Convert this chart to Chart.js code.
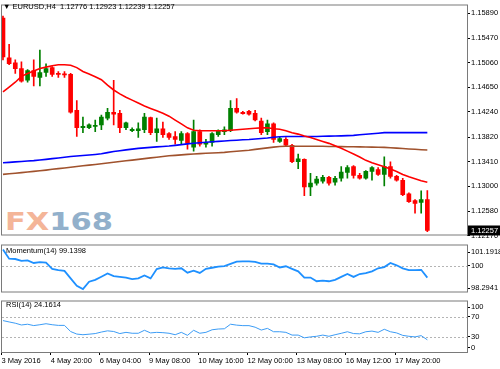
<!DOCTYPE html>
<html><head><meta charset="utf-8">
<script src="https://cdn.jsdelivr.net/npm/chart.js@4"></script>
<style>
html,body{margin:0;padding:0;background:#fff;width:500px;height:369px;overflow:hidden;font-family:"Liberation Sans",Arial,sans-serif}
canvas{position:absolute;left:0}
.t{position:absolute;font-size:7.5px;color:#000;white-space:nowrap;line-height:8px}
#wm{position:absolute;left:5px;top:209px;font:bold 25px "DejaVu Sans";line-height:25px;transform:scaleX(1.22);transform-origin:0 0;white-space:nowrap}
</style></head><body>
<div id="wm"><span style="color:#f4b598">FX</span><span style="color:#92b0cb">168</span></div>
<canvas id="main" width="500" height="240" style="top:0"></canvas>
<canvas id="mom" width="500" height="57" style="top:240px"></canvas>
<canvas id="rsi" width="500" height="73" style="top:296px"></canvas>
<div class="t" id="hdr" style="left:3px;top:3px"></div>
<div class="t" id="momLbl" style="left:6px;top:247px"></div>
<div class="t" id="rsiLbl" style="left:6px;top:301px"></div>
<script>
const symbol = "EURUSD,H4";
const tickLabels = ["3 May 2016","4 May 20:00","6 May 04:00","9 May 08:00","10 May 16:00","12 May 00:00","13 May 08:00","16 May 12:00","17 May 20:00"];
const tickBars = [0,8,16,24,32,40,48,56,64];
const priceTicks = [1.15890,1.15470,1.15060,1.14650,1.14240,1.13820,1.13410,1.13000,1.12580,1.12170];
const momTicks = [101.1918,100,98.2941];
const rsiTicks = [100,70,30,0];

const open = [1.15809,1.15143,1.15062,1.14965,1.14770,1.14932,1.14819,1.14900,1.14981,1.14884,
1.14876,1.14868,1.14267,1.13975,1.13975,1.13999,1.14024,1.14137,1.14235,1.14218,
1.13975,1.13926,1.13926,1.13942,1.14145,1.13894,1.13959,1.13877,1.13829,1.13764,
1.13877,1.13650,1.13910,1.13699,1.13731,1.13861,1.13910,1.13926,1.14300,1.14235,
1.14251,1.14218,1.14088,1.13910,1.14040,1.13748,1.13780,1.13683,1.13407,1.13447,
1.12985,1.13050,1.13082,1.13147,1.13066,1.13131,1.13228,1.13326,1.13180,1.13131,
1.13245,1.13277,1.13196,1.13326,1.13163,1.13098,1.12871,1.12758,1.12725,1.12776];
const high = [1.15841,1.15371,1.15111,1.15079,1.14949,1.15111,1.15273,1.15046,1.14997,1.14916,
1.14916,1.14884,1.14429,1.14153,1.14040,1.14105,1.14186,1.14300,1.14770,1.14267,
1.14072,1.13975,1.14056,1.14218,1.14153,1.14137,1.14072,1.13894,1.13910,1.13910,
1.13894,1.14105,1.13942,1.13780,1.13894,1.13942,1.13991,1.14429,1.14462,1.14251,
1.14267,1.14267,1.14137,1.14105,1.14056,1.13829,1.13813,1.13699,1.13537,1.13456,
1.13212,1.13163,1.13180,1.13163,1.13163,1.13326,1.13342,1.13342,1.13212,1.13261,
1.13326,1.13309,1.13488,1.13407,1.13180,1.13131,1.12887,1.12774,1.12920,1.12923];
const low = [1.15111,1.15030,1.14884,1.14738,1.14738,1.14673,1.14673,1.14835,1.14835,1.14819,
1.14819,1.14218,1.13829,1.13894,1.13959,1.13910,1.13942,1.14105,1.14024,1.13894,
1.13942,1.13910,1.13813,1.13894,1.13861,1.13748,1.13813,1.13780,1.13699,1.13699,
1.13618,1.13585,1.13667,1.13650,1.13667,1.13829,1.13861,1.13910,1.14218,1.14202,
1.14186,1.14088,1.13861,1.13861,1.13731,1.13731,1.13667,1.13391,1.13293,1.12839,
1.12839,1.13017,1.13050,1.13017,1.13017,1.13082,1.13131,1.13131,1.13115,1.13115,
1.13098,1.13180,1.13001,1.13131,1.13082,1.12839,1.12725,1.12547,1.12547,1.12239];
const close = [1.15160,1.15046,1.14965,1.14754,1.14932,1.14835,1.14900,1.14965,1.14868,1.14868,
1.14859,1.14235,1.13975,1.13999,1.14024,1.14015,1.14153,1.14235,1.14202,1.13975,
1.14056,1.13951,1.13959,1.14153,1.13894,1.13959,1.13861,1.13813,1.13780,1.13877,
1.13715,1.13910,1.13699,1.13731,1.13877,1.13926,1.13942,1.14300,1.14235,1.14210,
1.14202,1.14105,1.13894,1.14040,1.13780,1.13796,1.13683,1.13407,1.13456,1.12985,
1.13050,1.13115,1.13147,1.13050,1.13131,1.13236,1.13309,1.13180,1.13131,1.13245,
1.13309,1.13196,1.13326,1.13163,1.13098,1.12855,1.12741,1.12709,1.12774,1.12257];
const maFast = [1.14575,1.14656,1.14737,1.14835,1.14883,1.14924,1.14965,1.14989,1.15013,1.15029,
1.15029,1.15021,1.14981,1.14916,1.14875,1.14827,1.14778,1.14689,1.14607,1.14542,
1.14486,1.14437,1.14388,1.14339,1.14299,1.14258,1.14218,1.14169,1.14104,1.14039,
1.13974,1.13934,1.13925,1.13925,1.13925,1.13925,1.13925,1.13934,1.13942,1.13950,
1.13958,1.13966,1.13974,1.13974,1.13958,1.13950,1.13925,1.13893,1.13869,1.13836,
1.13812,1.13779,1.13747,1.13714,1.13674,1.13633,1.13584,1.13536,1.13487,1.13430,
1.13390,1.13357,1.13325,1.13284,1.13244,1.13195,1.13154,1.13122,1.13089,1.13065];
const maMid = [1.13391,1.13397,1.13404,1.13410,1.13418,1.13425,1.13436,1.13447,1.13459,1.13470,
1.13481,1.13494,1.13503,1.13512,1.13520,1.13529,1.13540,1.13559,1.13577,1.13592,
1.13605,1.13618,1.13631,1.13639,1.13647,1.13655,1.13662,1.13670,1.13681,1.13693,
1.13705,1.13717,1.13725,1.13733,1.13741,1.13748,1.13754,1.13762,1.13767,1.13774,
1.13779,1.13788,1.13796,1.13804,1.13816,1.13824,1.13829,1.13829,1.13829,1.13829,
1.13829,1.13829,1.13832,1.13835,1.13837,1.13840,1.13843,1.13848,1.13858,1.13866,
1.13874,1.13884,1.13894,1.13894,1.13894,1.13894,1.13894,1.13894,1.13894,1.13894];
const maSlow = [1.13196,1.13206,1.13215,1.13225,1.13235,1.13245,1.13256,1.13267,1.13280,1.13292,
1.13303,1.13316,1.13327,1.13339,1.13350,1.13361,1.13374,1.13387,1.13399,1.13412,
1.13423,1.13434,1.13447,1.13459,1.13472,1.13483,1.13494,1.13506,1.13514,1.13522,
1.13530,1.13537,1.13543,1.13548,1.13553,1.13558,1.13564,1.13574,1.13582,1.13590,
1.13600,1.13613,1.13626,1.13639,1.13652,1.13662,1.13667,1.13667,1.13667,1.13667,
1.13667,1.13667,1.13665,1.13663,1.13662,1.13660,1.13658,1.13657,1.13655,1.13653,
1.13652,1.13650,1.13647,1.13642,1.13634,1.13628,1.13621,1.13615,1.13608,1.13602];
const momentum = [101.1918,100.52,100.50,100.37,100.40,100.21,100.27,100.23,99.78,99.69,
99.63,99.08,98.53,98.2941,98.84,98.97,99.20,99.44,99.25,99.19,
99.14,99.03,99.08,99.29,99.08,99.76,99.88,99.82,99.78,99.82,
99.50,99.65,99.48,99.78,99.86,99.95,99.98,100.14,100.31,100.33,
100.33,100.29,100.16,100.16,100.10,99.88,99.97,99.78,99.60,99.14,
99.14,98.87,98.91,98.87,98.97,99.19,99.40,99.19,99.40,99.46,
99.60,99.82,99.91,100.21,100.04,99.82,99.69,99.69,99.71,99.1398];
const rsi = [62.2,59.5,57.0,53.5,55.0,52.3,54.0,56.0,54.0,52.7,
52.7,40.5,35.5,34.2,35.3,36.5,39.5,41.9,40.6,36.5,
38.9,37.1,37.1,43.0,37.8,38.9,38.3,37.1,34.2,38.9,
33.0,43.0,37.1,38.9,44.0,45.5,46.0,55.0,53.2,52.2,
52.2,49.1,43.5,46.8,40.1,40.1,38.9,33.5,33.5,28.1,
29.9,31.1,33.5,31.1,34.2,37.0,40.1,36.5,36.0,40.1,
41.4,38.9,45.0,40.1,37.8,32.9,31.1,29.9,32.4,24.1614];

const last = close.length - 1;
const FONT = {family:'"Liberation Sans", Arial, sans-serif', size:7.5};
const X_MIN = -0.16, X_MAX = 75.45;
const idx = close.map((_, i) => i);
const candleColor = idx.map(i => close[i] >= open[i] ? '#008000' : '#ff0000');

document.getElementById('hdr').innerHTML = '&#9660; ' + symbol + '&nbsp; ' +
  [open[last], high[last], low[last], close[last]].map(v => v.toFixed(5)).join(' ');
document.getElementById('momLbl').textContent = 'Momentum(14) ' + momentum[last].toFixed(4);
document.getElementById('rsiLbl').textContent = 'RSI(14) ' + rsi[last].toFixed(4);

const frame = {id:'frame', afterDraw(c){
  const a = c.chartArea, g = c.ctx; g.save();
  g.strokeStyle = '#7a7a7a'; g.lineWidth = 1;
  g.strokeRect(a.left - 0.5, a.top - 0.5, a.right - a.left + 1, a.bottom - a.top + 1);
  g.restore();
}};
function levels(values){ return {id:'levels', beforeDatasetsDraw(c){
  const y = c.scales.y, a = c.chartArea, g = c.ctx; g.save();
  g.strokeStyle = '#b4b4b4'; g.lineWidth = 1; g.setLineDash([2,2]);
  values.forEach(v => { const p = Math.round(y.getPixelForValue(v)) + 0.5;
    g.beginPath(); g.moveTo(a.left, p); g.lineTo(a.right, p); g.stroke(); });
  g.restore();
}};}
const priceBox = {id:'pbox', afterDraw(c){
  const y = c.scales.y, g = c.ctx, p = y.getPixelForValue(close[last]);
  g.save(); g.fillStyle = '#000'; g.fillRect(c.chartArea.right + 1, p - 5, 33, 10);
  g.fillStyle = '#fff'; g.font = '7.5px "Liberation Sans", Arial'; g.textBaseline = 'middle';
  g.fillText(close[last].toFixed(5), c.chartArea.right + 4, p + 0.5); g.restore();
}};

const base = {responsive:false, animation:false, devicePixelRatio:1, events:[],
  plugins:{legend:{display:false}, tooltip:{enabled:false}}};
function yAxis(min, max, vals, pos, fmt){
  return {position:'right', min, max,
    afterFit: s => { s.width = 33; },
    afterBuildTicks: s => { s.ticks = pos.map(v => ({value:v})); },
    ticks:{callback:(v, k) => fmt(vals[k]), font:FONT, color:'#000', padding:1, autoSkip:false},
    grid:{drawOnChartArea:false, tickLength:3, color:'#000'}, border:{display:false}};
}
const xHidden = {type:'linear', min:X_MIN, max:X_MAX, offset:false, display:false};

new Chart(document.getElementById('main'), {
  data:{datasets:[
    {type:'line', data: idx.map(i => ({x:i, y:maFast[i]})), borderColor:'#ff0000', borderWidth:1.6, pointRadius:0, order:0},
    {type:'line', data: idx.map(i => ({x:i, y:maMid[i]})), borderColor:'#0000ff', borderWidth:1.6, pointRadius:0, order:0},
    {type:'line', data: idx.map(i => ({x:i, y:maSlow[i]})), borderColor:'#a0522d', borderWidth:1.6, pointRadius:0, order:0},
    {type:'bar', data: idx.map(i => ({x:i, y:[open[i], close[i]]})), backgroundColor:candleColor, barThickness:4, minBarLength:1, grouped:false, order:1},
    {type:'bar', data: idx.map(i => ({x:i, y:[low[i], high[i]]})), backgroundColor:candleColor, barThickness:1, grouped:false, order:2}
  ]},
  options:{...base, layout:{padding:{top:2, left:2, bottom:2, right:0}},
    scales:{x:xHidden, y:yAxis(1.12190, 1.16020, priceTicks, priceTicks, v => v.toFixed(5))}},
  plugins:[frame, priceBox]
});

new Chart(document.getElementById('mom'), {
  type:'line',
  data:{datasets:[{data: idx.map(i => ({x:i, y:momentum[i]})), borderColor:'#1e90ff', borderWidth:1.8, pointRadius:0}]},
  options:{...base, layout:{padding:{top:2, left:2, bottom:2, right:0}},
    scales:{x:xHidden, y:yAxis(98.12, 101.49, momTicks, [101.0, 100, 98.36], v => String(v))}},
  plugins:[levels([100]), frame]
});

new Chart(document.getElementById('rsi'), {
  type:'line',
  data:{datasets:[{data: idx.map(i => ({x:i, y:rsi[i]})), borderColor:'#3c9cf5', borderWidth:1, pointRadius:0}]},
  options:{...base, layout:{padding:{top:1, left:2, bottom:0, right:0}},
    scales:{
      x:{type:'linear', min:X_MIN, max:X_MAX, offset:false, position:'bottom',
        afterFit: s => { s.height = 17; },
        afterBuildTicks: s => { s.ticks = tickBars.map(b => ({value:b - 0.25})); },
        ticks:{callback:(v, k) => tickLabels[k], font:FONT, color:'#000', padding:1, align:'start', maxRotation:0, autoSkip:false},
        grid:{drawOnChartArea:false, tickLength:3, color:'#000'}, border:{display:false}},
      y:yAxis(0, 100, rsiTicks, [89, 70, 30, 8], v => String(v))}},
  plugins:[levels([70, 30]), frame]
});
</script>
</body></html>
